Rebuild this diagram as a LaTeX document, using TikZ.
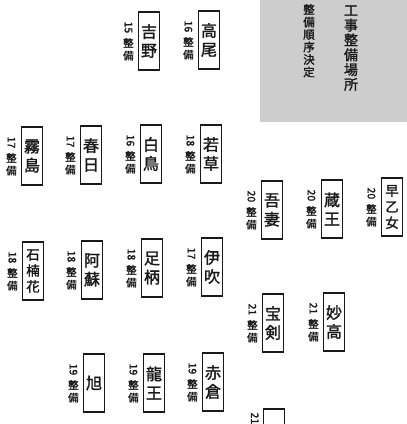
\documentclass[tikz,border=0pt]{standalone}
\usepackage{fontspec}
\usepackage{graphicx}
\newfontfamily\jpfont{Noto Sans CJK JP}
\newfontfamily\jpheavy[FakeBold=1.6]{Noto Sans CJK JP}
\usetikzlibrary{positioning}
\definecolor{headerfill}{RGB}{205,205,205}
\definecolor{inkcolor}{RGB}{25,25,25}
\tikzset{
namebox/.style={
  draw=inkcolor,
  line width=1.3pt,
  fill=white,
  minimum width=21pt,
  minimum height=58pt,
  inner sep=0pt,
  align=center,
  text=inkcolor,
  font=\jpheavy\fontsize{16}{19}\selectfont
},
longname/.style={
  namebox,
  font=\jpheavy\fontsize{13.5}{16}\selectfont
},
worklabel/.style={
  inner sep=0pt,
  align=center,
  text=inkcolor,
  font=\jpheavy\fontsize{10.5}{12.5}\selectfont
},
headertext/.style={
  inner sep=0pt,
  align=center,
  text=inkcolor
}
}
\newcommand{\seibi}[1]{\rotatebox{-90}{#1}\\[4pt]整\\備}

\begin{document}
\begin{tikzpicture}[x=1pt, y=-1pt]
\useasboundingbox (0,0) rectangle (407,424);
\clip (0,0) rectangle (407,424);

% ============================================================================
% Kopfbereich
% ============================================================================
\fill[headerfill] (260,0) rectangle (407,122);
\node[headertext, anchor=south, font=\jpheavy\fontsize{14}{14.8}\selectfont] (place) at (351,91) {工\\事\\整\\備\\場\\所};
\node[headertext, anchor=north, font=\jpheavy\fontsize{11.5}{12.5}\selectfont] (order) at (309,4) {整\\備\\順\\序\\決\\定};

% ============================================================================
% Reihe 1
% ============================================================================
\node[namebox] (takao) at (209,40) {高\\尾};
\node[namebox] (yoshino) at (149,41) {吉\\野};
\node[worklabel, left=4pt of takao] (takao_l) {\seibi{16}};
\node[worklabel, left=4pt of yoshino] (yoshino_l) {\seibi{15}};

% ============================================================================
% Reihe 2
% ============================================================================
\node[namebox] (kirishima) at (32,156) {霧\\島};
\node[namebox] (kasuga) at (91,155) {春\\日};
\node[namebox] (hakucho) at (151,154) {白\\鳥};
\node[namebox] (wakakusa) at (211,154) {若\\草};
\node[worklabel, left=4pt of kirishima] (kirishima_l) {\seibi{17}};
\node[worklabel, left=4pt of kasuga] (kasuga_l) {\seibi{17}};
\node[worklabel, left=4pt of hakucho] (hakucho_l) {\seibi{16}};
\node[worklabel, left=4pt of wakakusa] (wakakusa_l) {\seibi{18}};

% ============================================================================
% Reihe 3
% ============================================================================
\node[longname] (shakunage) at (33,271) {石\\楠\\花};
\node[namebox] (aso) at (92,270) {阿\\蘇};
\node[namebox] (ashigara) at (152,268) {足\\柄};
\node[namebox] (ibuki) at (212,267) {伊\\吹};
\node[worklabel, left=4pt of shakunage] (shakunage_l) {\seibi{18}};
\node[worklabel, left=4pt of aso] (aso_l) {\seibi{18}};
\node[worklabel, left=4pt of ashigara] (ashigara_l) {\seibi{18}};
\node[worklabel, left=4pt of ibuki] (ibuki_l) {\seibi{17}};

% ============================================================================
% Reihe 4
% ============================================================================
\node[namebox] (asahi) at (94,383) {旭};
\node[namebox] (ryuo) at (154,383) {龍\\王};
\node[namebox] (akakura) at (213,382) {赤\\倉};
\node[worklabel, left=4pt of asahi] (asahi_l) {\seibi{19}};
\node[worklabel, left=4pt of ryuo] (ryuo_l) {\seibi{19}};
\node[worklabel, left=4pt of akakura] (akakura_l) {\seibi{19}};

% ============================================================================
% rechte Seite
% ============================================================================
\node[longname] (saotome) at (392,207) {早\\乙\\女};
\node[namebox] (zao) at (332,209) {蔵\\王};
\node[namebox] (azuma) at (272,210) {吾\\妻};
\node[worklabel, left=4pt of saotome] (saotome_l) {\seibi{20}};
\node[worklabel, left=4pt of zao] (zao_l) {\seibi{20}};
\node[worklabel, left=4pt of azuma] (azuma_l) {\seibi{20}};

\node[namebox] (myoko) at (334,322) {妙\\高};
\node[namebox] (hoken) at (273,323) {宝\\剣};
\node[worklabel, left=4pt of myoko] (myoko_l) {\seibi{21}};
\node[worklabel, left=4pt of hoken] (hoken_l) {\seibi{21}};

% unten abgeschnitten
\node[namebox] (lastbox) at (274,438) {};
\node[worklabel, anchor=north east] (lastbox_l) at ([xshift=-4pt, yshift=-4pt]lastbox.north west) {\rotatebox{-90}{21}};

\end{tikzpicture}
\end{document}
